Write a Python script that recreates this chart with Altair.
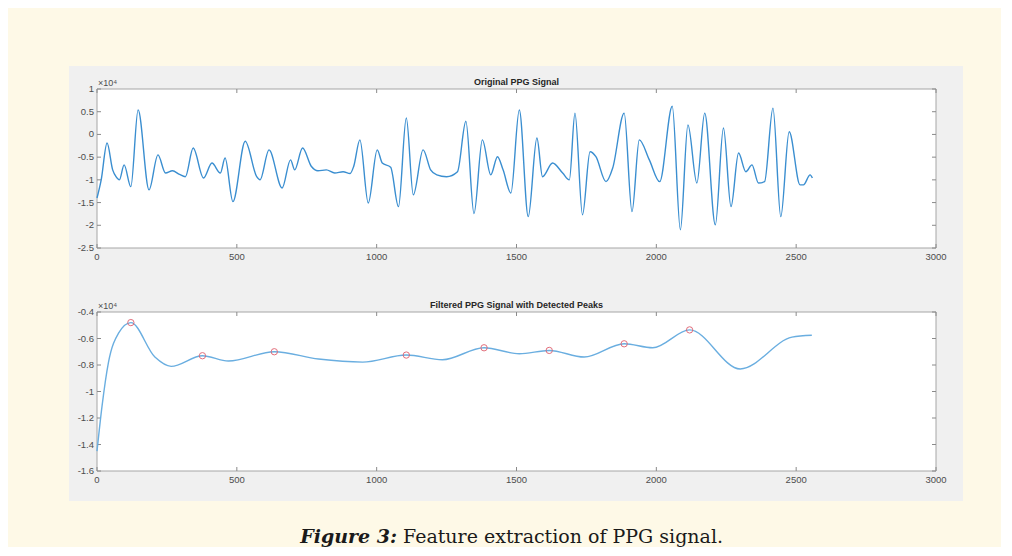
import altair as alt
import pandas as pd

# ---------------- data ----------------
TOP_X = [0, 15, 36, 56, 68, 80, 97, 121, 147, 186, 218, 245, 270, 295, 316, 344, 381, 411,
         441, 458, 486, 530, 571, 583, 615, 662, 692, 707, 735, 766, 790, 820, 850, 880, 905,
         918, 940, 970, 1002, 1020, 1050, 1078, 1106, 1131, 1166, 1193, 1215, 1250, 1289,
         1319, 1348, 1378, 1408, 1432, 1452, 1480, 1510, 1542, 1573, 1593, 1629, 1665, 1689,
         1709, 1736, 1763, 1784, 1820, 1844, 1885, 1913, 1939, 1975, 2012, 2057, 2086, 2113,
         2145, 2173, 2211, 2240, 2267, 2294, 2320, 2342, 2365, 2387, 2417, 2445, 2475, 2514,
         2526, 2550, 2558]
TOP_Y = [-1.40, -1.00, -0.19, -0.78, -0.93, -1.00, -0.67, -1.15, 0.54, -1.22, -0.45, -0.85,
         -0.80, -0.88, -0.93, -0.30, -0.96, -0.63, -0.85, -0.52, -1.48, -0.15, -0.93, -1.00,
         -0.34, -1.18, -0.56, -0.78, -0.30, -0.70, -0.80, -0.78, -0.85, -0.82, -0.86, -0.70,
         -0.12, -1.51, -0.34, -0.63, -0.72, -1.59, 0.36, -1.33, -0.34, -0.78, -0.89, -0.93,
         -0.82, 0.29, -1.74, -0.12, -0.89, -0.49, -0.78, -1.29, 0.54, -1.81, -0.08, -0.93,
         -0.63, -0.85, -1.00, 0.47, -1.77, -0.38, -0.49, -1.04, -0.74, 0.47, -1.70, -0.12,
         -0.56, -1.04, 0.62, -2.10, 0.21, -1.07, 0.47, -1.99, 0.14, -1.59, -0.41, -0.82,
         -0.67, -1.07, -1.04, 0.58, -1.81, 0.06, -1.11, -1.11, -0.89, -0.96]

BOT_X = [0, 18, 41, 77, 121, 207, 265, 377, 470, 634, 792, 950, 1106, 1235, 1384, 1510,
         1617, 1742, 1885, 1987, 2119, 2300, 2485, 2556]
BOT_Y = [-1.45, -1.11, -0.78, -0.56, -0.48, -0.74, -0.81, -0.73, -0.77, -0.70, -0.755,
         -0.778, -0.725, -0.76, -0.67, -0.715, -0.69, -0.74, -0.64, -0.67, -0.535, -0.83,
         -0.59, -0.575]

PEAK_X = [121, 377, 634, 1106, 1384, 1617, 1885, 2119]
PEAK_Y = [-0.48, -0.73, -0.70, -0.725, -0.67, -0.69, -0.64, -0.535]

X_TICKS = [0, 500, 1000, 1500, 2000, 2500, 3000]
TOP_Y_TICKS = [-2.5, -2, -1.5, -1, -0.5, 0, 0.5, 1]
BOT_Y_TICKS = [-1.6, -1.4, -1.2, -1, -0.8, -0.6, -0.4]

TOP_TITLE = "Original PPG Signal"
BOT_TITLE = "Filtered PPG Signal with Detected Peaks"
EXP_LABEL = "×10⁴"
CAPTION_BOLD = "Figure 3:"
CAPTION_TEXT = "Feature extraction of PPG signal."

# ---------------- styling ----------------
W, H = 839, 159
SANS = "Liberation Sans"
LABEL_COLOR = "#4d4d4d"
TICK_COLOR = "#8a8a8a"
BOX_COLOR = "#a6a6a6"
FIG_GRAY = "#f0f0f0"
CREAM = "#fef9e7"

one = pd.DataFrame({"k": [0]})


def panel(line_df, line_color, line_width, y_ticks, title, bg_top, bg_bottom,
          title_y, extra=()):
    xs = alt.Scale(domain=[0, 3000], nice=False, zero=False)
    ys = alt.Scale(domain=[min(y_ticks), max(y_ticks)], nice=False, zero=False)

    bg = alt.Chart(one).mark_rect(fill=FIG_GRAY).encode(
        x=alt.value(-28), x2=alt.value(866), y=alt.value(bg_top), y2=alt.value(bg_bottom))
    plot_bg = alt.Chart(one).mark_rect(fill="white", stroke=BOX_COLOR, strokeWidth=1).encode(
        x=alt.value(0), x2=alt.value(W), y=alt.value(0), y2=alt.value(H))

    xt = pd.DataFrame({"x": X_TICKS})
    yt = pd.DataFrame({"y": y_ticks})
    xb = alt.Chart(xt).mark_rule(color=TICK_COLOR).encode(
        x=alt.X("x:Q", scale=xs, axis=None), y=alt.value(H), y2=alt.value(H - 4))
    xtp = alt.Chart(xt).mark_rule(color=TICK_COLOR).encode(
        x=alt.X("x:Q", scale=xs, axis=None), y=alt.value(0), y2=alt.value(4))
    yl = alt.Chart(yt).mark_rule(color=TICK_COLOR).encode(
        y=alt.Y("y:Q", scale=ys, axis=None), x=alt.value(0), x2=alt.value(4))
    yr = alt.Chart(yt).mark_rule(color=TICK_COLOR).encode(
        y=alt.Y("y:Q", scale=ys, axis=None), x=alt.value(W), x2=alt.value(W - 4))

    xlab = alt.Chart(xt).transform_calculate(lab="'' + datum.x").mark_text(
        font=SANS, fontSize=9.5, color=LABEL_COLOR, baseline="top", align="center").encode(
        x=alt.X("x:Q", scale=xs, axis=None), y=alt.value(H + 4), text="lab:N")
    ylab = alt.Chart(yt).transform_calculate(lab="'' + datum.y").mark_text(
        font=SANS, fontSize=9.5, color=LABEL_COLOR, baseline="middle", align="right").encode(
        y=alt.Y("y:Q", scale=ys, axis=None), x=alt.value(-3), text="lab:N")

    line = alt.Chart(line_df).mark_line(color=line_color, strokeWidth=line_width,
                                        interpolate="monotone").encode(
        x=alt.X("x:Q", scale=xs, axis=None),
        y=alt.Y("y:Q", scale=ys, axis=None),
        order="x:Q")

    title_t = alt.Chart(one).mark_text(text=title, fontWeight="bold", fontSize=9,
                                       font=SANS, baseline="middle", align="center",
                                       color="#262626").encode(
        x=alt.value(W / 2), y=alt.value(title_y))
    exp_t = alt.Chart(one).mark_text(text=EXP_LABEL, fontSize=9, font=SANS, align="left",
                                     baseline="bottom", color=LABEL_COLOR).encode(
        x=alt.value(1), y=alt.value(-1))

    layers = [bg, plot_bg, xb, xtp, yl, yr, xlab, ylab, line, *extra, title_t, exp_t]
    return alt.layer(*layers).properties(width=W, height=H)


top_df = pd.DataFrame({"x": TOP_X, "y": TOP_Y})
bot_df = pd.DataFrame({"x": BOT_X, "y": BOT_Y})
peak_df = pd.DataFrame({"x": PEAK_X, "y": PEAK_Y})

peak_scale_x = alt.Scale(domain=[0, 3000], nice=False, zero=False)
peak_scale_y = alt.Scale(domain=[min(BOT_Y_TICKS), max(BOT_Y_TICKS)], nice=False, zero=False)
peaks = alt.Chart(peak_df).mark_point(shape="circle", filled=False, color="#e0606e",
                                      size=40, strokeWidth=1, opacity=0.9).encode(
    x=alt.X("x:Q", scale=peak_scale_x, axis=None),
    y=alt.Y("y:Q", scale=peak_scale_y, axis=None))

cap_b = alt.Chart(one).mark_text(text=CAPTION_BOLD, font="DejaVu Serif", fontSize=19,
                                 fontWeight="bold", fontStyle="italic", align="right",
                                 baseline="alphabetic", color="#1a1a1a").encode(
    x=alt.value(300), y=alt.value(231))
cap_r = alt.Chart(one).mark_text(text=CAPTION_TEXT, font="DejaVu Serif", fontSize=19,
                                 align="left", baseline="alphabetic",
                                 color="#1a1a1a").encode(
    x=alt.value(306), y=alt.value(231))

top = panel(top_df, "#3a8ed0", 1.4, TOP_Y_TICKS, TOP_TITLE, -23, 191, -7)
bottom = panel(bot_df, "#6aaee0", 1.4, BOT_Y_TICKS, BOT_TITLE, -32, 189, -7.5,
               extra=(peaks, cap_b, cap_r))

chart = alt.vconcat(top, bottom, spacing=0).properties(
    padding={"left": 61, "top": 58, "right": 38, "bottom": 0},
    background=CREAM,
).configure_view(stroke=None).configure_concat(spacing=0)

chart.save("out.html", embed_options={"renderer": "svg", "actions": False})
